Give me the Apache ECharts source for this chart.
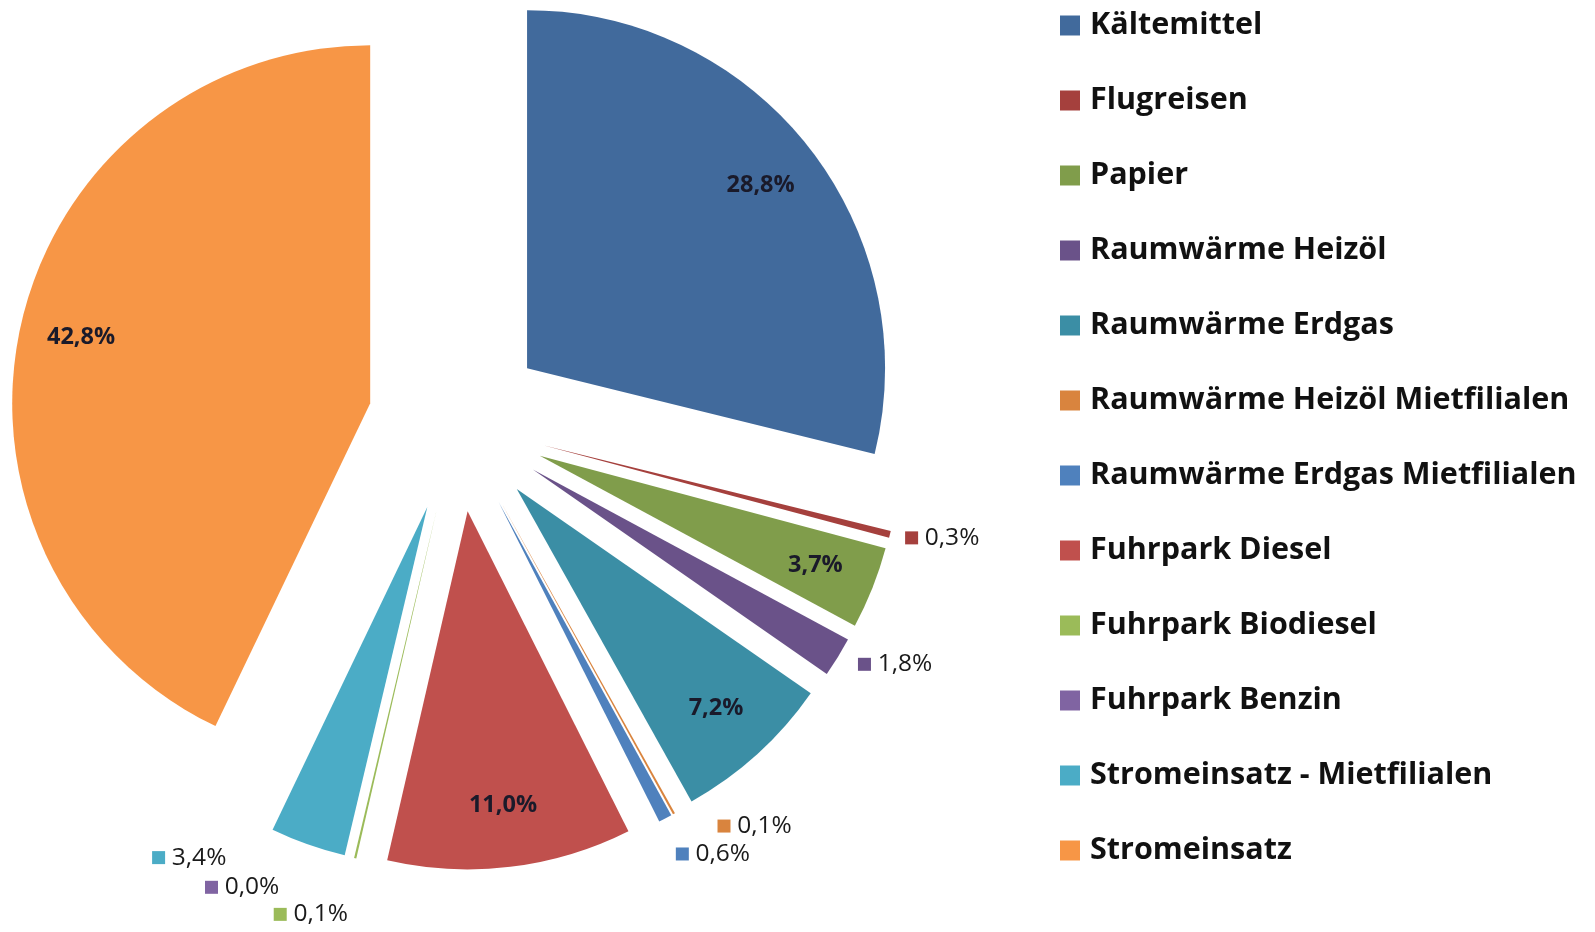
<!DOCTYPE html>
<html>
<head>
<meta charset="utf-8">
<script src="https://cdn.jsdelivr.net/npm/echarts@6/dist/echarts.min.js"></script>
<style>
html,body{margin:0;padding:0;background:#fff;}
#chart{width:1595px;height:932px;}
</style>
</head>
<body>
<div id="chart"></div>
<script>
var categories = ['Kältemittel','Flugreisen','Papier','Raumwärme Heizöl','Raumwärme Erdgas','Raumwärme Heizöl Mietfilialen','Raumwärme Erdgas Mietfilialen','Fuhrpark Diesel','Fuhrpark Biodiesel','Fuhrpark Benzin','Stromeinsatz - Mietfilialen','Stromeinsatz'];
var shares = [28.8, 0.3, 3.7, 1.8, 7.2, 0.1, 0.6, 11.0, 0.1, 0.0, 3.4, 42.8];
var colors = ['#416A9C','#A5403D','#809D4B','#6A5289','#3B8EA5','#D9843E','#4F81BD','#C0504D','#9BBB59','#8064A2','#4BACC6','#F79646'];
var insideLabeled = [true,false,true,false,true,false,false,true,false,false,false,true];

function fmt(v){ return v.toFixed(1).replace('.', ',') + '%'; }

var FONT = '"Open Sans"';
var CX = 457, CY = 423, R = 358, OFF = 89;

var mainData = categories.map(function(name, i){
  var small = !insideLabeled[i];
  return {
    name: name,
    value: shares[i],
    selected: true,
    itemStyle: {color: colors[i]},
    label: small ? {
      show: true,
      position: 'outside',
      formatter: '{sq|}  {t|' + fmt(shares[i]) + '}',
      rich: {
        sq: {width: 13, height: 13, backgroundColor: colors[i]},
        t: {fontFamily: FONT, fontSize: 24.5, color: '#1a1a1a'}
      }
    } : {show: false},
    labelLine: {show: false}
  };
});

var ringData = categories.map(function(name, i){
  return {
    name: name,
    value: shares[i],
    selected: true,
    itemStyle: {color: 'rgba(0,0,0,0)'},
    label: insideLabeled[i] ? {
      show: true,
      position: 'inside',
      formatter: fmt(shares[i]),
      fontFamily: FONT, fontSize: 23.5, fontWeight: 'bold', color: '#1a1a2a'
    } : {show: false}
  };
});

var chart = echarts.init(document.getElementById('chart'), null, {renderer: 'canvas'});
chart.setOption({
  animation: false,
  backgroundColor: '#ffffff',
  legend: {
    orient: 'vertical',
    left: 1055,
    top: 5,
    bottom: 0,
    icon: 'rect',
    itemWidth: 20,
    itemHeight: 20,
    itemGap: 44,
    selectedMode: false,
    data: categories,
    textStyle: {fontFamily: FONT, fontSize: 30.5, fontWeight: 'bold', color: '#111', padding: [0,0,0,5], lineHeight: 30}
  },
  series: [
    {
      type: 'pie',
      center: [CX, CY],
      radius: R,
      startAngle: 90,
      clockwise: true,
      selectedMode: 'multiple',
      selectedOffset: OFF,
      avoidLabelOverlap: true,
      label: {distanceToLabelLine: 4},
      labelLine: {show: false, length: 14, length2: 0},
      emphasis: {disabled: true},
      itemStyle: {borderWidth: 0},
      data: mainData
    },
    {
      type: 'pie',
      center: [CX, CY],
      radius: [R * 0.64, R],
      startAngle: 90,
      clockwise: true,
      selectedMode: 'multiple',
      selectedOffset: OFF,
      silent: true,
      emphasis: {disabled: true},
      labelLine: {show: false},
      data: ringData
    }
  ]
});
</script>
</body>
</html>
